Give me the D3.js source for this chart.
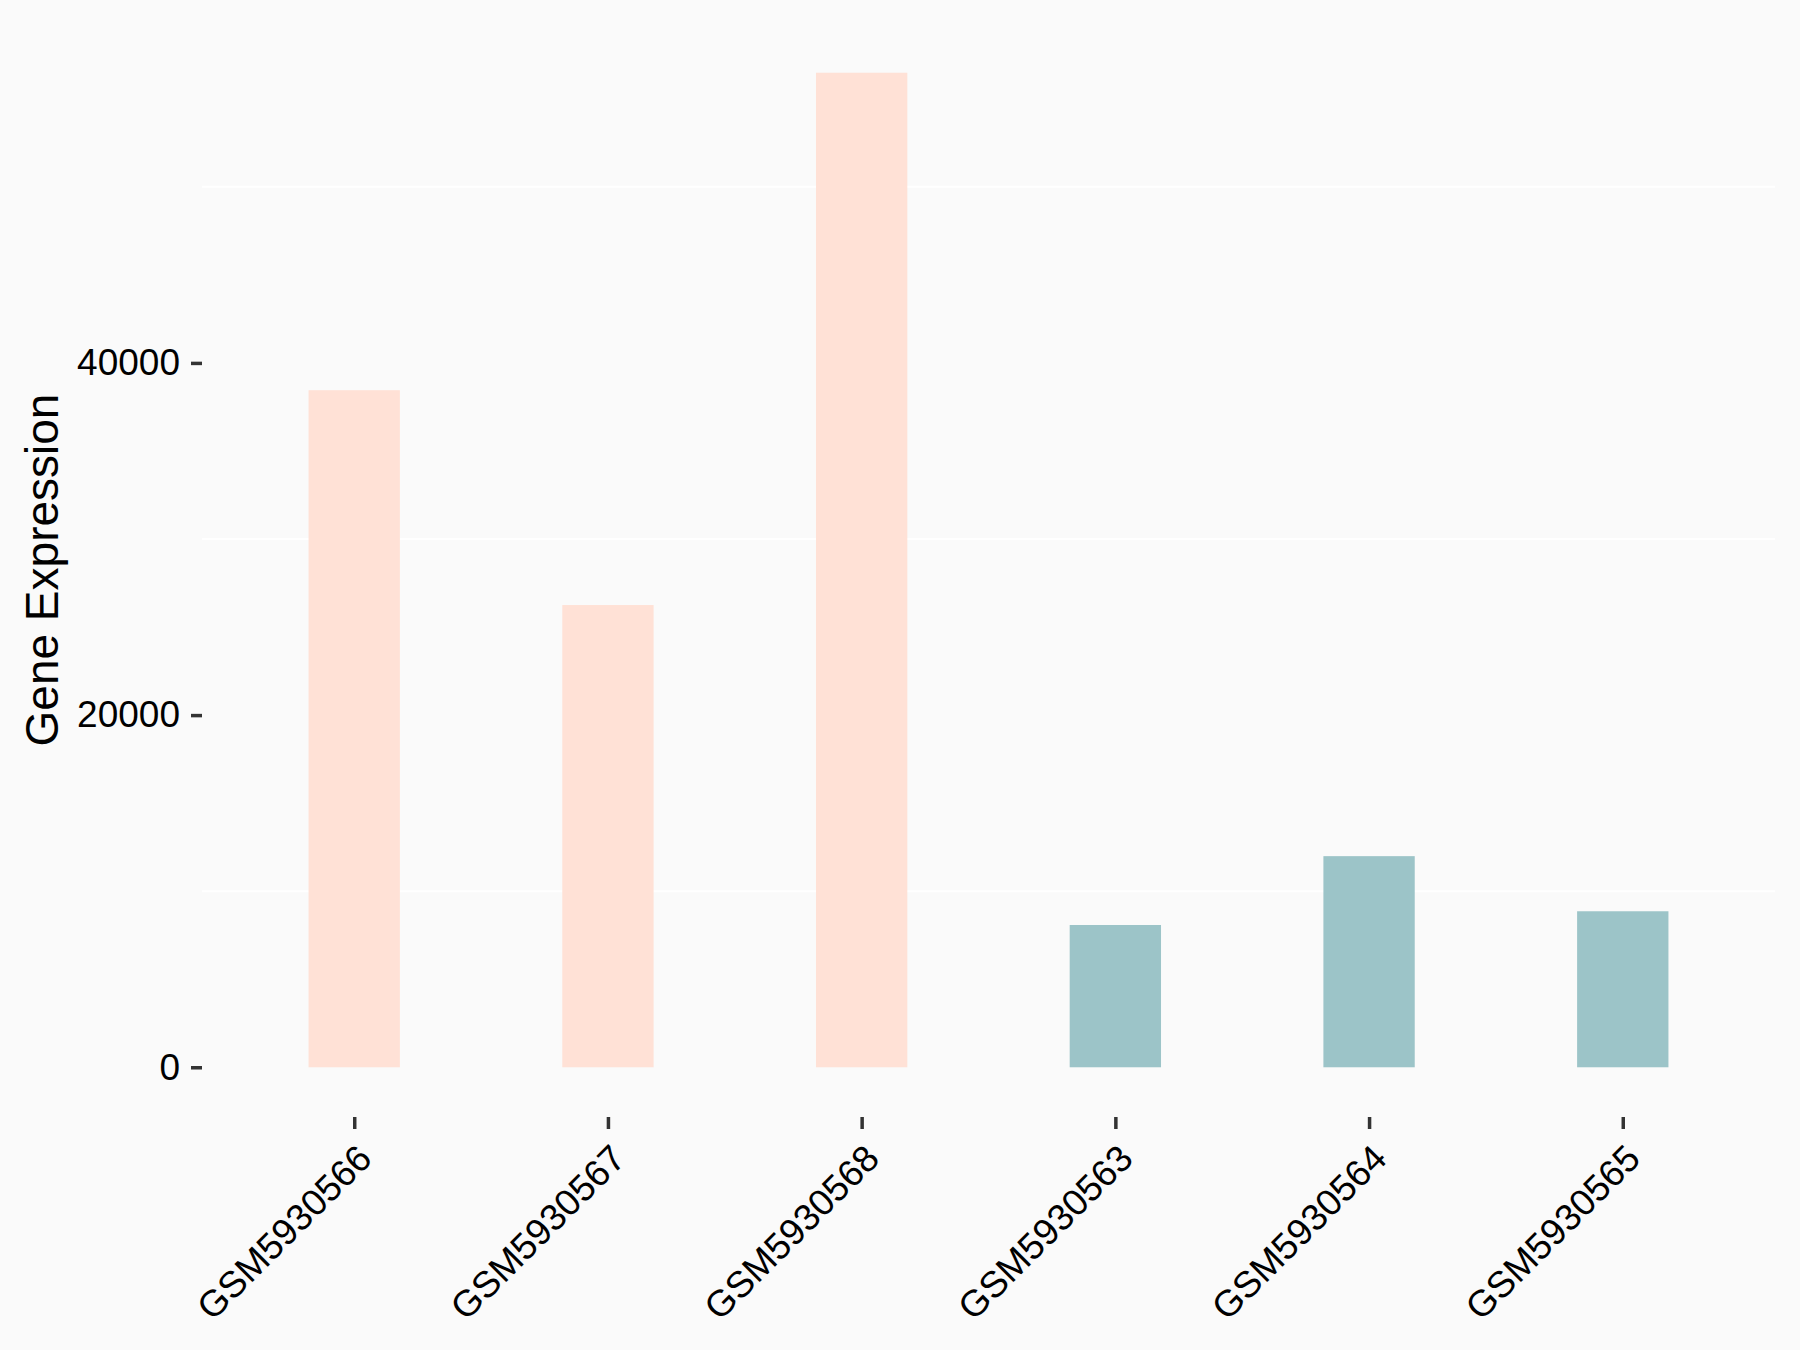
<!DOCTYPE html>
<html>
<head>
<meta charset="utf-8">
<script src="https://cdn.jsdelivr.net/npm/d3@7"></script>
<style>
  body { margin: 0; background: #FAFAFA; }
  svg { display: block; font-family: "Liberation Sans", Arial, sans-serif; }
</style>
</head>
<body>
<svg id="chart" width="1800" height="1350"></svg>
<script>
// samples and values
const samples = ['GSM5930566', 'GSM5930567', 'GSM5930568', 'GSM5930563', 'GSM5930564', 'GSM5930565'];
const expression = [38450, 26250, 56480, 8080, 11990, 8860];
const groups = ['A', 'A', 'A', 'B', 'B', 'B'];
const groupColors = { A: '#FFE1D6', B: '#9CC4C8' };
const yTicks = [0, 20000, 40000];
const yMinorGrid = [10000, 30000, 50000];

const svg = d3.select('#chart');
const W = 1800, H = 1350;
const margin = { top: 23, right: 25, bottom: 233, left: 202 };
const width = W - margin.left - margin.right;
const height = H - margin.top - margin.bottom;

svg.append('rect').attr('width', W).attr('height', H).attr('fill', '#FAFAFA');

const g = svg.append('g').attr('transform', `translate(${margin.left},${margin.top})`);

// ggplot style discrete scale: 0.6 unit expansion each side
const nUnits = samples.length - 1 + 1.2;
const unit = width / nUnits;
const xScale = d3.scalePoint()
    .domain(samples)
    .range([0.6 * unit, width - 0.6 * unit]);
const barW = unit * 0.36;

const maxVal = d3.max(expression);
const yScale = d3.scaleLinear()
    .domain([-0.05 * maxVal, maxVal * 1.05])
    .range([height, 0]);

// minor grid lines (white)
g.selectAll('.grid')
    .data(yMinorGrid)
    .enter()
    .append('line')
    .attr('x1', 0)
    .attr('x2', width)
    .attr('y1', d => yScale(d))
    .attr('y2', d => yScale(d))
    .attr('stroke', '#FFFFFF')
    .attr('stroke-width', 2);

// bars
g.selectAll('.bar')
    .data(samples)
    .enter()
    .append('rect')
    .attr('x', d => xScale(d) - barW / 2)
    .attr('y', (d, i) => yScale(expression[i]))
    .attr('width', barW)
    .attr('height', (d, i) => yScale(0) - yScale(expression[i]))
    .attr('fill', (d, i) => groupColors[groups[i]]);

// Y axis
const yAxis = g.append('g')
    .call(d3.axisLeft(yScale).tickValues(yTicks).tickSize(11).tickPadding(11).tickFormat(d3.format('d')));
yAxis.select('.domain').remove();
yAxis.selectAll('.tick line').attr('stroke', '#333333').attr('stroke-width', 3.5);
yAxis.selectAll('.tick text').attr('font-size', '37px').attr('fill', '#000').attr('font-family', '"Liberation Sans", Arial, sans-serif');

// X axis
const xAxis = g.append('g')
    .attr('transform', `translate(0,${height})`)
    .call(d3.axisBottom(xScale).tickSize(12).tickFormat(''));
xAxis.select('.domain').remove();
xAxis.selectAll('.tick line').attr('stroke', '#333333').attr('stroke-width', 3.5);

// rotated x labels
g.selectAll('.xlabel')
    .data(samples)
    .enter()
    .append('text')
    .attr('transform', d => `translate(${xScale(d)},${height + 24}) rotate(-45)`)
    .attr('text-anchor', 'end')
    .attr('dy', '0.75em')
    .attr('font-size', '37px')
    .attr('fill', '#000')
    .text(d => d);

// Y axis title
svg.append('text')
    .attr('transform', `translate(58,${margin.top + height / 2}) rotate(-90)`)
    .attr('text-anchor', 'middle')
    .attr('font-size', '46px')
    .attr('fill', '#000')
    .text('Gene Expression');
</script>
</body>
</html>
